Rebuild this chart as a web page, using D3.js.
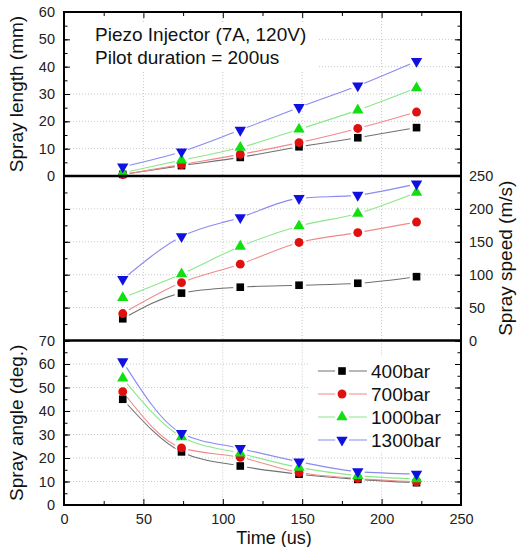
<!DOCTYPE html>
<html>
<head>
<meta charset="utf-8">
<script src="https://cdn.jsdelivr.net/npm/d3@7"></script>
<style>
    body { margin: 0; background: #fff; }
    svg { display: block; font-family: "Liberation Sans", Arial, sans-serif; }
</style>
</head>
<body>
<svg id="chart" width="521" height="547"></svg>
<script>
// injection time (us)
const times = [37, 74, 111, 148, 185, 222];
const pressures = ['400bar', '700bar', '1000bar', '1300bar'];

// one row per pressure, same order as pressures
const sprayLength = [
    [0.6, 3.8, 6.8, 10.7, 14.0, 17.7],
    [0.5, 4.2, 7.9, 12.2, 17.4, 23.4],
    [1.2, 5.8, 10.4, 17.1, 24.1, 32.2],
    [3.4, 8.9, 16.8, 25.1, 33.0, 42.0]
];
const spraySpeed = [
    [33, 72, 81, 84, 87, 97],
    [41, 88, 116, 149, 164, 180],
    [65, 101, 143, 174, 193, 225],
    [93, 158, 187, 216, 221, 238]
];
const sprayAngle = [
    [45.0, 22.6, 16.6, 13.1, 10.9, 9.5],
    [48.2, 24.3, 20.3, 13.8, 11.3, 9.9],
    [53.9, 29.0, 22.0, 16.0, 12.5, 11.1],
    [61.0, 30.5, 24.1, 18.4, 14.2, 13.2]
];

const xTicks = [0, 50, 100, 150, 200, 250];
const lengthTicks = [0, 10, 20, 30, 40, 50, 60];
const speedTicks = [0, 50, 100, 150, 200, 250];
const angleTicks = [0, 10, 20, 30, 40, 50, 60, 70];

const markColors = ['#000000', '#e01010', '#10e010', '#1010e0'];
const lineColors = ['#707070', '#f08a8a', '#8ae88a', '#8a8af0'];
const symbols = [d3.symbolSquare, d3.symbolCircle, d3.symbolTriangle, d3.symbolTriangle];

const svg = d3.select('#chart');
const defs = svg.append('defs');
const left = 64, right = 461;
const gapR = 7;
const x = d3.scaleLinear().domain([0, 250]).range([left, right]);

const panels = [
    {top: 12, bottom: 176, data: sprayLength, ticks: lengthTicks, minor: 5,
     title: 'Spray length (mm)', side: 'left', tx: 23},
    {top: 176, bottom: 340.5, data: spraySpeed, ticks: speedTicks, minor: 25,
     title: 'Spray speed (m/s)', side: 'right', tx: 512},
    {top: 340.5, bottom: 505, data: sprayAngle, ticks: angleTicks, minor: 5,
     title: 'Spray angle (deg.)', side: 'left', tx: 23}
];

function markerPath(i) {
    let size = i == 0 ? 58 : (i == 1 ? 62 : 56);
    return d3.symbol().type(symbols[i]).size(size)();
}

// mask that cuts the line open around its symbols, like Origin does
function gapMask(id, pts) {
    let m = defs.append('mask').attr('id', id)
        .attr('maskUnits', 'userSpaceOnUse')
        .attr('x', 0).attr('y', 0).attr('width', 521).attr('height', 547);
    m.append('rect').attr('width', 521).attr('height', 547).attr('fill', '#fff');
    m.selectAll('circle').data(pts).enter().append('circle')
        .attr('cx', d => d[0]).attr('cy', d => d[1]).attr('r', gapR).attr('fill', '#000');
    return `url(#${id})`;
}

panels.forEach((p, pi) => {
    let ymax = p.ticks[p.ticks.length - 1];
    let y = d3.scaleLinear().domain([0, ymax]).range([p.bottom, p.top]);
    let g = svg.append('g');

    // dotted grid
    g.selectAll('.gx').data(xTicks.slice(1, -1)).enter().append('line')
        .attr('x1', d => x(d)).attr('x2', d => x(d))
        .attr('y1', p.top).attr('y2', p.bottom)
        .attr('stroke', '#c8c8c8').attr('stroke-dasharray', '1,2');
    g.selectAll('.gy').data(p.ticks.slice(1, -1)).enter().append('line')
        .attr('x1', left).attr('x2', right)
        .attr('y1', d => y(d)).attr('y2', d => y(d))
        .attr('stroke', '#c8c8c8').attr('stroke-dasharray', '1,2');

    // white boxes behind the note and the legend
    if (pi == 0) {
        g.append('rect').attr('x', 66).attr('y', 22).attr('width', 253).attr('height', 48).attr('fill', '#fff');
    }
    if (pi == 2) {
        g.append('rect').attr('x', 310).attr('y', 356).attr('width', 148).attr('height', 96).attr('fill', '#fff');
    }

    // y axes, ticks pointing inward
    let minorVals = d3.range(0, ymax + 0.01, p.minor);
    let axL = d3.axisLeft(y).tickValues(p.ticks).tickSize(-6).tickPadding(9)
        .tickFormat(p.side == 'left' ? d3.format('d') : '');
    let axR = d3.axisRight(y).tickValues(p.ticks).tickSize(-6).tickPadding(8)
        .tickFormat(p.side == 'right' ? d3.format('d') : '');
    let gl = g.append('g').attr('transform', `translate(${left},0)`).call(axL);
    g.append('g').attr('transform', `translate(${left},0)`)
        .call(d3.axisLeft(y).tickValues(minorVals).tickSize(-3.5).tickFormat(''));
    let gr = g.append('g').attr('transform', `translate(${right},0)`).call(axR);
    g.append('g').attr('transform', `translate(${right},0)`)
        .call(d3.axisRight(y).tickValues(minorVals).tickSize(-3.5).tickFormat(''));
    [gl, gr].forEach(a => {
        a.select('.domain').remove();
        a.selectAll('text').attr('font-size', 14.5).attr('fill', '#222');
    });

    // axis title
    g.append('text')
        .attr('transform', `translate(${p.tx},${(p.top + p.bottom) / 2}) rotate(-90)`)
        .attr('text-anchor', 'middle').attr('font-size', 19).attr('fill', '#111')
        .text(p.title);

    // series
    let line = d3.line().x((d, i) => x(times[i])).y(d => y(d)).curve(d3.curveMonotoneX);
    p.data.forEach((vals, si) => {
        let pts = vals.map((v, i) => [x(times[i]), y(v)]);
        g.append('path').attr('d', line(vals))
            .attr('fill', 'none').attr('stroke', lineColors[si]).attr('stroke-width', 1.1)
            .attr('mask', gapMask(`gap${pi}_${si}`, pts));
    });
    p.data.forEach((vals, si) => {
        g.selectAll('.m' + si).data(vals).enter().append('path')
            .attr('d', markerPath(si))
            .attr('transform', (d, i) => `translate(${x(times[i])},${y(d)})` + (si == 3 ? ' rotate(180)' : ''))
            .attr('fill', markColors[si]);
    });
});

// top ticks and bottom axis
let majorX = xTicks, minorX = d3.range(25, 250, 50);
svg.append('g').attr('transform', 'translate(0,12)')
    .call(d3.axisTop(x).tickValues(majorX).tickSize(-6).tickFormat(''))
    .call(a => a.select('.domain').remove());
svg.append('g').attr('transform', 'translate(0,12)')
    .call(d3.axisTop(x).tickValues(minorX).tickSize(-4).tickFormat(''))
    .call(a => a.select('.domain').remove());
let bx = svg.append('g').attr('transform', 'translate(0,505)')
    .call(d3.axisBottom(x).tickValues(majorX).tickSize(-6).tickPadding(9).tickFormat(d3.format('d')));
bx.select('.domain').remove();
bx.selectAll('text').attr('font-size', 14.5).attr('fill', '#222');
svg.append('g').attr('transform', 'translate(0,505)')
    .call(d3.axisBottom(x).tickValues(minorX).tickSize(-4).tickFormat(''))
    .call(a => a.select('.domain').remove());

svg.append('text').attr('x', 274).attr('y', 544).attr('text-anchor', 'middle')
    .attr('font-size', 18).attr('fill', '#111').text('Time (us)');

// frame and panel separators
svg.append('rect').attr('x', left).attr('y', 12).attr('width', right - left).attr('height', 493)
    .attr('fill', 'none').attr('stroke', '#000').attr('stroke-width', 2);
[176, 340.5].forEach(yy => {
    svg.append('line').attr('x1', left).attr('x2', right).attr('y1', yy).attr('y2', yy)
        .attr('stroke', '#000').attr('stroke-width', 2.6);
});

// note
svg.append('text').attr('x', 95).attr('y', 41).attr('font-size', 19).attr('fill', '#111')
    .text('Piezo Injector (7A, 120V)');
svg.append('text').attr('x', 95).attr('y', 64).attr('font-size', 19).attr('fill', '#111')
    .text('Pilot duration = 200us');

// legend
let legend = svg.append('g');
pressures.forEach((name, i) => {
    let ly = 371 + i * 23;
    legend.append('line').attr('x1', 318).attr('x2', 367).attr('y1', ly).attr('y2', ly)
        .attr('stroke', lineColors[i]).attr('stroke-width', 1.1)
        .attr('mask', gapMask('lg' + i, [[342, ly]]));
    legend.append('path').attr('d', markerPath(i))
        .attr('transform', `translate(342,${ly})` + (i == 3 ? ' rotate(180)' : ''))
        .attr('fill', markColors[i]);
    legend.append('text').attr('x', 371).attr('y', ly).attr('dy', '0.35em')
        .attr('font-size', 19).attr('fill', '#111').text(name);
});
</script>
</body>
</html>
